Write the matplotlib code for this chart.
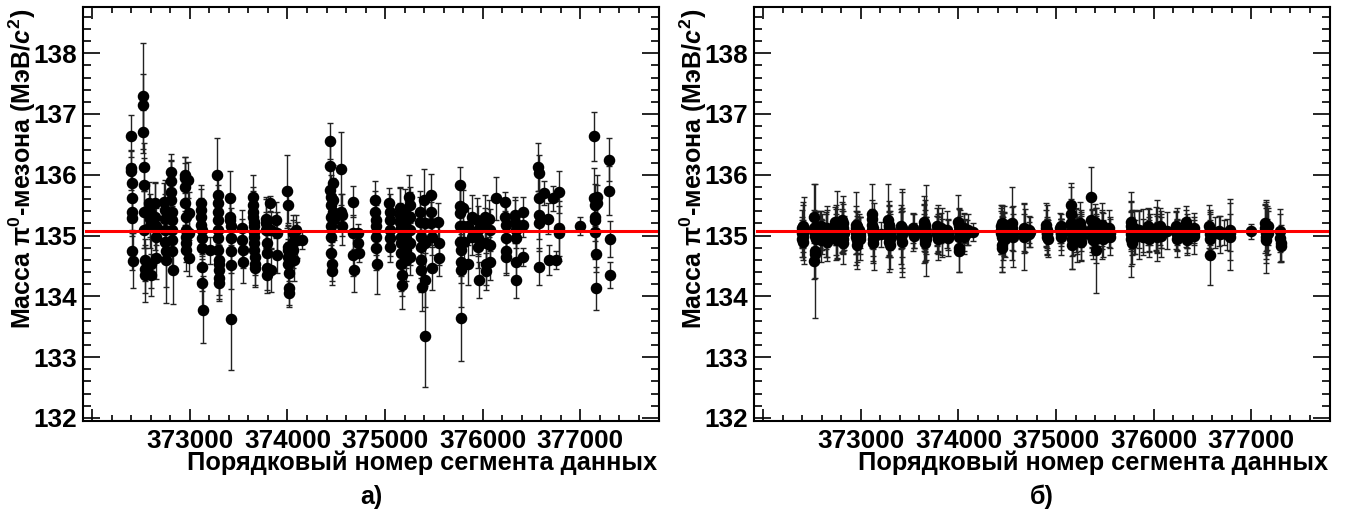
import numpy as np
import matplotlib.pyplot as plt
from matplotlib.ticker import MultipleLocator, FuncFormatter

plt.rcParams['font.family'] = ['Liberation Sans', 'DejaVu Sans']
plt.rcParams['font.weight'] = 'bold'
plt.rcParams['mathtext.fontset'] = 'custom'
plt.rcParams['mathtext.rm'] = 'Liberation Sans:bold'
plt.rcParams['mathtext.bf'] = 'Liberation Sans:bold'
plt.rcParams['mathtext.it'] = 'Liberation Sans:italic:bold'

# run numbers (one per data segment), grouped by column as they appear on the plot
run = [
    372396, 372399, 372401, 372403, 372405, 372407, 372409, 372411, 372414,
    372518, 372521, 372524, 372527, 372530, 372532, 372535, 372538, 372541, 372544,
    372586, 372589, 372592, 372595, 372598, 372601,
    372643, 372647, 372650, 372653, 372657,
    372738, 372741, 372743, 372745, 372748, 372751, 372754,
    372805, 372807, 372809, 372811, 372813, 372815, 372817, 372819, 372821, 372824,
    372948, 372950, 372952, 372954, 372956, 372958, 372960, 372962, 372964,
    372986, 372989, 372992, 372995,
    373113, 373115, 373117, 373119, 373121, 373123, 373125, 373127, 373129, 373131,
    373206,
    373282, 373284, 373286, 373287, 373289, 373290, 373292, 373293, 373295, 373296, 373298, 373299, 373301,
    373410, 373412, 373414, 373417, 373419, 373421, 373423, 373425,
    373536, 373539, 373542, 373545,
    373646, 373648, 373649, 373651, 373653, 373654, 373656, 373658, 373659, 373661, 373663, 373664, 373666,
    373779, 373781, 373783, 373786, 373788, 373790, 373792,
    373823, 373827, 373831,
    373884, 373888, 373892,
    373999, 374001, 374003, 374005, 374007, 374009, 374011, 374013, 374015,
    374054, 374057, 374060, 374063,
    374090, 374096,
    374145,
    374436, 374438, 374439, 374441, 374443, 374444, 374446, 374448, 374449, 374451, 374453,
    374464, 374467, 374470, 374473,
    374549, 374552, 374555, 374558,
    374668, 374671, 374675, 374678,
    374720, 374724, 374728,
    374898, 374900, 374903, 374905, 374907, 374909, 374912,
    375042, 375045, 375047, 375049, 375052, 375054,
    375153, 375155, 375157, 375159, 375161, 375163, 375165, 375167, 375169, 375171,
    375204, 375207, 375209, 375212, 375215,
    375247, 375250, 375252, 375255, 375257, 375260,
    375359, 375361, 375364, 375366, 375368, 375371, 375373,
    375401, 375404, 375407, 375410, 375413,
    375469, 375472, 375475, 375478, 375481,
    375545, 375550, 375555,
    375764, 375766, 375768, 375770, 375772, 375774, 375776, 375778, 375780,
    375795, 375799, 375803,
    375846, 375854,
    375886, 375894,
    375946, 375949, 375952, 375955, 375958,
    376025, 376028, 376031, 376034, 376037,
    376067, 376070, 376074, 376077,
    376140,
    376229, 376232, 376234, 376236, 376238, 376241,
    376332, 376335, 376337, 376339, 376341, 376344,
    376409, 376413, 376417,
    376570, 376572, 376574, 376577, 376579, 376581,
    376624,
    376671, 376679,
    376719,
    376754,
    376777, 376781, 376785,
    376993,
    377142, 377144, 377146, 377149, 377151, 377153, 377156, 377158,
    377166, 377174,
    377295, 377298, 377301, 377304,
]

# panel a) pi0 mass before correction, MeV/c^2
mass_a = [
    136.64, 136.11, 136.07, 135.87, 135.62, 135.38, 135.29, 134.74, 134.59,
    137.30, 137.15, 136.71, 136.13, 135.83, 135.39, 135.09, 134.60, 134.45, 134.35,
    135.53, 135.39, 135.28, 135.15, 134.54, 134.35,
    135.53, 135.31, 135.15, 134.98, 134.63,
    135.56, 135.42, 135.28, 135.09, 134.90, 134.74, 134.60,
    136.05, 135.89, 135.72, 135.59, 135.39, 135.26, 135.09, 134.93, 134.74, 134.43,
    136.00, 135.94, 135.80, 135.53, 135.31, 135.09, 134.98, 134.87, 134.76,
    135.91, 135.37, 135.04, 134.63,
    135.53, 135.42, 135.31, 135.17, 135.09, 134.96, 134.79, 134.49, 134.22, 133.78,
    134.76,
    136.00, 135.67, 135.53, 135.39, 135.26, 135.09, 134.96, 134.76, 134.60, 134.54, 134.43, 134.30, 134.22,
    135.61, 135.31, 135.26, 135.15, 134.96, 134.74, 134.52, 133.63,
    135.12, 134.93, 134.76, 134.57,
    135.64, 135.50, 135.39, 135.31, 135.23, 135.15, 135.06, 134.98, 134.87, 134.76, 134.65, 134.54, 134.46,
    135.28, 135.20, 135.09, 134.87, 134.71, 134.46, 134.35,
    135.53, 135.09, 134.43,
    135.26, 135.04, 134.68,
    135.73, 135.50, 134.82, 134.76, 134.65, 134.54, 134.38, 134.13, 134.05,
    135.04, 134.90, 134.76, 134.60,
    135.09, 134.93,
    134.93,
    136.56, 136.14, 135.75, 135.64, 135.50, 135.31, 135.15, 134.98, 134.71, 134.54, 134.41,
    135.86, 135.59, 135.39, 135.28,
    136.10, 135.39, 135.34, 135.15,
    135.56, 135.04, 134.68, 134.43,
    135.04, 134.87, 134.71,
    135.59, 135.39, 135.26, 135.15, 134.98, 134.79, 134.54,
    135.53, 135.39, 135.26, 135.09, 134.96, 134.82,
    135.45, 135.34, 135.23, 135.12, 134.98, 134.87, 134.71, 134.54, 134.35, 134.19,
    135.42, 135.20, 134.96, 134.76, 134.60,
    135.64, 135.50, 135.31, 135.09, 134.87, 134.65,
    135.39, 135.23, 134.98, 134.82, 134.60, 134.43, 134.16,
    135.59, 135.20, 134.87, 134.27, 133.34,
    135.67, 135.39, 135.20, 134.98, 134.46,
    135.23, 134.87, 134.63,
    135.83, 135.48, 135.37, 135.15, 134.90, 134.76, 134.57, 134.43, 133.64,
    135.45, 135.15, 134.90,
    135.15, 134.54,
    135.31, 134.98,
    135.26, 135.09, 134.96, 134.82, 134.27,
    135.31, 135.15, 134.87, 134.54, 134.41,
    135.28, 135.09, 134.85, 134.57,
    135.61,
    135.56, 135.31, 135.17, 134.96, 134.74, 134.65,
    135.34, 135.23, 135.09, 134.96, 134.57, 134.27,
    135.39, 135.17, 134.65,
    136.13, 136.03, 135.61, 135.34, 135.20, 134.49,
    135.70,
    135.28, 134.60,
    135.61,
    134.60,
    135.72, 135.12, 135.04,
    135.16,
    136.63, 135.61, 135.50, 135.31, 135.26, 135.06, 134.70, 134.13,
    135.64, 135.53,
    136.25, 135.74, 134.94, 134.35,
]

err_a = [
    0.35, 0.30, 0.32, 0.30, 0.30, 0.28, 0.30, 0.30, 0.45,
    0.87, 0.50, 0.35, 0.40, 0.45, 0.35, 0.30, 0.35, 0.40, 0.45,
    0.35, 0.30, 0.30, 0.35, 0.40, 0.35,
    0.35, 0.55, 0.30, 0.35, 0.35,
    0.30, 0.50, 0.40, 0.35, 0.35, 0.85, 0.45,
    0.30, 0.35, 0.50, 0.35, 0.30, 0.35, 0.40, 0.45, 0.30, 0.55,
    0.30, 0.35, 0.40, 0.35, 0.30, 0.40, 0.35, 0.30, 0.35,
    0.30, 0.35, 0.35, 0.30,
    0.30, 0.35, 0.30, 0.35, 0.40, 0.30, 0.35, 0.40, 0.40, 0.55,
    0.22,
    0.60, 0.35, 0.30, 0.35, 0.40, 0.30, 0.35, 0.45, 0.35, 0.30, 0.40, 0.35, 0.30,
    0.45, 0.30, 0.35, 0.30, 0.40, 0.35, 0.40, 0.84,
    0.30, 0.35, 0.30, 0.35,
    0.35, 0.30, 0.35, 0.30, 0.40, 0.35, 0.30, 0.35, 0.30, 0.35, 0.30, 0.35, 0.30,
    0.35, 0.40, 0.30, 0.35, 0.30, 0.35, 0.30,
    0.12, 0.30, 0.35,
    0.30, 0.35, 0.30,
    0.60, 0.30, 0.35, 0.40, 0.30, 0.35, 0.30, 0.30, 0.20,
    0.30, 0.35, 0.30, 0.35,
    0.25, 0.30,
    0.15,
    0.30, 0.35, 0.40, 0.35, 0.30, 0.35, 0.30, 0.35, 0.30, 0.35, 0.15,
    0.30, 0.35, 0.30, 0.35,
    0.60, 0.30, 0.35, 0.30,
    0.25, 0.30, 0.35, 0.35,
    0.15, 0.20, 0.15,
    0.30, 0.35, 0.30, 0.35, 0.30, 0.35, 0.50,
    0.25, 0.30, 0.30, 0.25, 0.30, 0.25,
    0.35, 0.45, 0.30, 0.35, 0.30, 0.35, 0.40, 0.45, 0.35, 0.40,
    0.35, 0.30, 0.35, 0.30, 0.35,
    0.35, 0.30, 0.40, 0.30, 0.35, 0.30,
    0.35, 0.40, 0.30, 0.35, 0.30, 0.35, 0.40,
    0.50, 0.35, 0.40, 0.45, 0.83,
    0.35, 0.30, 0.35, 0.30, 0.35,
    0.30, 0.35, 0.30,
    0.30, 0.35, 0.40, 0.35, 0.30, 0.40, 0.35, 0.60, 0.70,
    0.30, 0.35, 0.30,
    0.30, 0.35,
    0.35, 0.30,
    0.35, 0.40, 0.30, 0.35, 0.30,
    0.35, 0.30, 0.35, 0.35, 0.30,
    0.30, 0.35, 0.30, 0.30,
    0.35,
    0.15, 0.30, 0.35, 0.30, 0.35, 0.30,
    0.30, 0.35, 0.30, 0.35, 0.30, 0.30,
    0.25, 0.20, 0.15,
    0.40, 0.30, 0.35, 0.40, 0.45, 0.30,
    0.20,
    0.25, 0.25,
    0.20,
    0.15,
    0.35, 0.45, 0.45,
    0.15,
    0.41, 0.50, 0.35, 0.30, 0.35, 0.45, 0.30, 0.35,
    0.35, 0.30,
    0.35, 0.40, 0.30, 0.22,
]

# panel б) pi0 mass after correction, MeV/c^2
mass_b = [
    135.12, 135.05, 134.95, 135.10, 134.98, 135.15, 134.90, 135.03, 135.08,
    135.30, 135.12, 134.58, 134.75, 135.05, 134.70, 135.00, 135.15, 134.95, 135.08,
    135.10, 135.02, 134.92, 135.15, 135.06, 134.98,
    135.08, 135.00, 134.90, 135.12, 135.04,
    135.22, 135.14, 135.05, 134.98, 135.10, 135.18, 134.92,
    135.25, 135.15, 135.08, 135.02, 134.88, 135.20, 135.10, 134.95, 135.12, 135.05,
    135.18, 135.05, 134.98, 135.12, 135.08, 134.85, 134.92, 135.15, 135.02,
    135.10, 135.00, 134.95, 135.05,
    135.35, 135.28, 135.18, 135.10, 135.02, 134.95, 134.88, 135.06, 135.12, 134.98,
    135.02,
    135.25, 135.18, 135.12, 135.05, 134.98, 134.90, 135.15, 135.08, 135.02, 134.85, 135.10, 135.00, 134.95,
    135.15, 135.08, 134.98, 135.02, 135.10, 134.90, 135.05, 135.12,
    135.12, 135.05, 135.00, 135.08,
    135.22, 135.15, 135.10, 135.05, 134.98, 134.92, 134.88, 135.18, 135.12, 135.02, 135.08, 134.95, 135.00,
    135.15, 135.08, 135.02, 134.95, 135.10, 135.05, 134.98,
    135.12, 135.05, 134.98,
    135.10, 135.02, 134.96,
    135.22, 135.15, 135.08, 134.98, 134.80, 134.75, 135.02, 135.12, 135.05,
    135.12, 135.05, 134.98, 135.08,
    135.05, 135.10,
    135.06,
    135.15, 135.10, 135.05, 134.98, 134.85, 134.80, 135.20, 135.12, 135.02, 134.95, 135.08,
    135.18, 135.10, 135.02, 134.95,
    135.20, 135.12, 135.05, 134.98,
    135.12, 135.05, 134.98, 135.08,
    135.10, 135.02, 135.06,
    135.18, 135.12, 135.05, 134.98, 135.10, 135.02, 134.95,
    135.12, 135.05, 134.98, 135.08, 135.02, 135.15,
    135.50, 135.35, 135.20, 135.10, 135.02, 134.95, 134.85, 135.15, 135.05, 134.98,
    135.15, 135.08, 135.00, 134.92, 135.10,
    135.20, 135.12, 135.05, 134.98, 134.90, 135.08,
    135.64, 135.25, 135.12, 135.05, 134.98, 135.08, 134.92,
    135.22, 135.10, 135.02, 134.95, 134.76,
    135.18, 135.08, 135.02, 134.95, 135.12,
    135.12, 135.05, 134.98,
    135.22, 135.15, 135.08, 135.02, 134.95, 134.88, 135.12, 135.05, 134.98,
    135.12, 135.05, 134.98,
    135.10, 135.02,
    135.08, 134.98,
    135.15, 135.08, 135.02, 134.95, 135.10,
    135.12, 135.05, 134.98, 135.08, 135.02,
    135.15, 135.05, 135.00, 135.10,
    135.08,
    135.15, 135.08, 135.02, 134.95, 135.10, 135.05,
    135.23, 135.12, 135.05, 134.98, 134.92, 135.08,
    135.12, 135.05, 135.00,
    135.15, 135.08, 135.02, 134.95, 135.10, 134.68,
    135.05,
    135.08, 135.02,
    135.05,
    135.02,
    135.10, 135.05, 134.98,
    135.07,
    135.20, 135.12, 135.05, 134.98, 135.10, 134.92, 135.08, 135.02,
    135.15, 135.05,
    135.08, 134.96, 134.87, 134.83,
]

err_b = [
    0.30, 0.25, 0.30, 0.45, 0.25, 0.35, 0.30, 0.22, 0.55,
    0.55, 0.30, 0.30, 1.10, 0.35, 0.40, 0.30, 0.25, 0.35, 0.30,
    0.30, 0.25, 0.35, 0.25, 0.30, 0.28,
    0.30, 0.35, 0.25, 0.30, 0.45,
    0.25, 0.30, 0.45, 0.30, 0.25, 0.55, 0.30,
    0.30, 0.25, 0.35, 0.30, 0.35, 0.45, 0.30, 0.25, 0.40, 0.28,
    0.30, 0.35, 0.28, 0.60, 0.30, 0.40, 0.35, 0.25, 0.30,
    0.25, 0.30, 0.35, 0.25,
    0.50, 0.30, 0.25, 0.30, 0.35, 0.40, 0.30, 0.28, 0.25, 0.55,
    0.20,
    0.60, 0.30, 0.45, 0.25, 0.30, 0.50, 0.35, 0.30, 0.25, 0.40, 0.30, 0.35, 0.30,
    0.35, 0.30, 0.45, 0.70, 0.30, 0.50, 0.40, 0.65,
    0.25, 0.30, 0.20, 0.28,
    0.30, 0.35, 0.55, 0.30, 0.25, 0.35, 0.30, 0.40, 0.30, 0.28, 0.75, 0.35, 0.30,
    0.30, 0.25, 0.30, 0.35, 0.40, 0.30, 0.25,
    0.25, 0.40, 0.30,
    0.30, 0.25, 0.30,
    0.45, 0.30, 0.35, 0.30, 0.40, 0.35, 0.25, 0.30, 0.28,
    0.25, 0.30, 0.28, 0.20,
    0.20, 0.25,
    0.15,
    0.30, 0.40, 0.35, 0.50, 0.45, 0.40, 0.30, 0.25, 0.30, 0.35, 0.30,
    0.30, 0.28, 0.35, 0.30,
    0.60, 0.35, 0.30, 0.50,
    0.40, 0.30, 0.55, 0.35,
    0.22, 0.20, 0.25,
    0.35, 0.30, 0.25, 0.30, 0.40, 0.25, 0.30,
    0.25, 0.22, 0.30, 0.20, 0.25, 0.20,
    0.36, 0.45, 0.40, 0.30, 0.35, 0.50, 0.40, 0.30, 0.25, 0.30,
    0.30, 0.35, 0.30, 0.35, 0.25,
    0.35, 0.30, 0.30, 0.40, 0.30, 0.25,
    0.49, 0.35, 0.30, 0.25, 0.30, 0.35, 0.30,
    0.30, 0.35, 0.30, 0.40, 0.70,
    0.35, 0.30, 0.40, 0.30, 0.25,
    0.30, 0.25, 0.30,
    0.35, 0.40, 0.30, 0.70, 0.45, 0.35, 0.30, 0.25, 0.30,
    0.30, 0.35, 0.28,
    0.30, 0.40,
    0.35, 0.30,
    0.30, 0.35, 0.28, 0.30, 0.25,
    0.35, 0.30, 0.25, 0.50, 0.30,
    0.30, 0.25, 0.35, 0.30,
    0.30,
    0.25, 0.30, 0.25, 0.30, 0.35, 0.20,
    0.25, 0.30, 0.25, 0.30, 0.20, 0.28,
    0.25, 0.20, 0.30,
    0.35, 0.30, 0.40, 0.30, 0.25, 0.50,
    0.25,
    0.25, 0.30,
    0.20,
    0.25,
    0.50, 0.30, 0.55,
    0.12,
    0.30, 0.40, 0.50, 0.60, 0.35, 0.30, 0.40, 0.25,
    0.30, 0.35,
    0.35, 0.40, 0.30, 0.25,
]

fit_mass = 135.08
panel_labels = ['а)', 'б)']
ylabel = 'Масса π$^{0}$-мезона (МэВ/$\\mathit{c}^{2}$)'
xlabel = 'Порядковый номер сегмента данных'

W, H = 1357, 517
fig = plt.figure(figsize=(W / 100, H / 100), dpi=100)

# first major x tick (372000) is left unlabelled, as in the original
xfmt = FuncFormatter(lambda v, p: '' if v < 372500 else f'{v:.0f}')

lefts = [83, 754]
for i, (mass, err) in enumerate([(mass_a, err_a), (mass_b, err_b)]):
    ax = fig.add_axes([lefts[i] / W, 96 / H, 576 / W, 414 / H])
    ax.errorbar(run, mass, yerr=err, fmt='o', color='black', ms=7.3,
                ecolor='#222222', elinewidth=1.0, capsize=2, capthick=1.0)
    ax.axhline(fit_mass, xmin=0.005, xmax=0.995, color='red', lw=2.2, zorder=5)

    ax.set_xlim(371906, 377805)
    ax.set_ylim(131.95, 138.76)
    ax.xaxis.set_major_locator(MultipleLocator(1000))
    ax.xaxis.set_minor_locator(MultipleLocator(200))
    ax.xaxis.set_major_formatter(xfmt)
    ax.yaxis.set_major_locator(MultipleLocator(1))
    ax.yaxis.set_minor_locator(MultipleLocator(0.2))
    ax.tick_params(which='both', direction='in', top=True, right=True,
                   labelsize=18.8, width=1.2)
    ax.tick_params(axis='x', which='major', length=8.5, pad=6)
    ax.tick_params(axis='x', which='minor', length=4)
    ax.tick_params(axis='y', which='major', length=12, pad=4)
    ax.tick_params(axis='y', which='minor', length=6)
    for lab in ax.get_xticklabels() + ax.get_yticklabels():
        lab.set_fontweight('bold')
    for sp in ax.spines.values():
        sp.set_linewidth(1.5)

    fig.text((lefts[i] + 574) / W, 1 - 463 / H, xlabel, ha='right', va='center',
             fontsize=18.3, fontweight='bold')
    fig.text((lefts[i] - 61) / W, 1 - 9 / H, ylabel, rotation=90, ha='center',
             va='top', fontsize=18, fontweight='bold')
    fig.text((lefts[i] + 288) / W, 1 - 497 / H, panel_labels[i], ha='center',
             va='center', fontsize=18, fontweight='bold')

fig.savefig('out.png', dpi=100)
